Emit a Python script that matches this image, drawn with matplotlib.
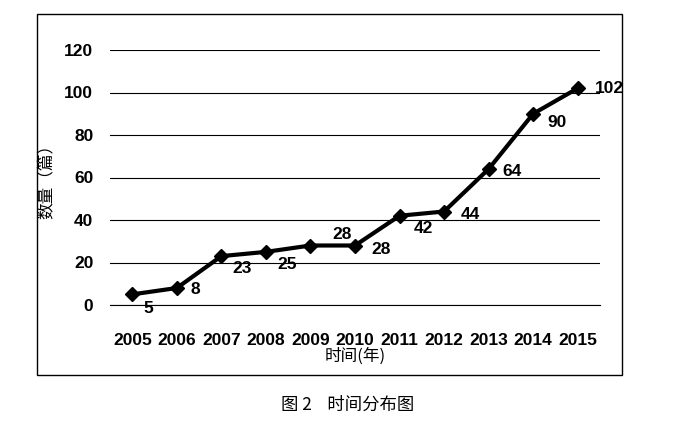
import matplotlib
matplotlib.use("Agg")
import matplotlib.pyplot as plt
from matplotlib.patches import Rectangle

years = ["2005","2006","2007","2008","2009","2010","2011","2012","2013","2014","2015"]
counts = [5, 8, 23, 25, 28, 28, 42, 44, 64, 90, 102]
# label offsets in points (dx, dy)
offs = [(8,-10),(10,-1),(8,-9),(8,-9),(16,8),(12,-3),(10,-9),(12,-2),(10,-2),(10,-6),(12,0)]

plt.rcParams['font.family'] = ['Liberation Sans', 'Noto Sans CJK SC', 'DejaVu Sans']
fig = plt.figure(figsize=(6.79, 4.33), dpi=100)
ax = fig.add_axes([110/679, 1-305/433, 490/679, 255/433])
x = list(range(len(years)))
ax.plot(x, counts, color='black', lw=3, marker='D', ms=7)
for xi, v, (dx, dy) in zip(x, counts, offs):
    ax.annotate(str(v), (xi, v), xytext=(dx, dy), textcoords='offset points',
                fontsize=12.5, fontweight='bold', ha='left', va='center')
ax.set_xlim(-0.5, 10.5)
ax.set_ylim(0, 120)
ax.set_yticks(range(0, 121, 20))
ax.set_xticks(x)
ax.set_xticklabels(years, fontsize=12.5, fontweight='bold')
ax.tick_params(axis='y', labelsize=12.5, length=0, pad=12)
for l in ax.get_yticklabels():
    l.set_fontweight('bold')
ax.tick_params(axis='x', length=0, pad=20)
ax.grid(axis='y', color='black', lw=0.8)
for s in ['top', 'right', 'left']:
    ax.spines[s].set_visible(False)
ax.spines['bottom'].set_linewidth(0.8)
ax.set_axisbelow(True)
ax.set_ylabel('数量（篇）', fontsize=12, family=['Noto Sans CJK SC'], labelpad=6)
ax.set_xlabel('时间(年)', fontsize=12, family=['Noto Sans CJK SC'], labelpad=0)
fig.patches.append(Rectangle((37/679, 1-375/433), 585/679, 361/433, transform=fig.transFigure,
                             fill=False, ec='black', lw=1))
fig.text(348/679, 1-405/433, '图 2    时间分布图', ha='center', va='center', fontsize=12.5,
         family=['Noto Sans CJK SC'])
fig.savefig('out.png', dpi=100)
